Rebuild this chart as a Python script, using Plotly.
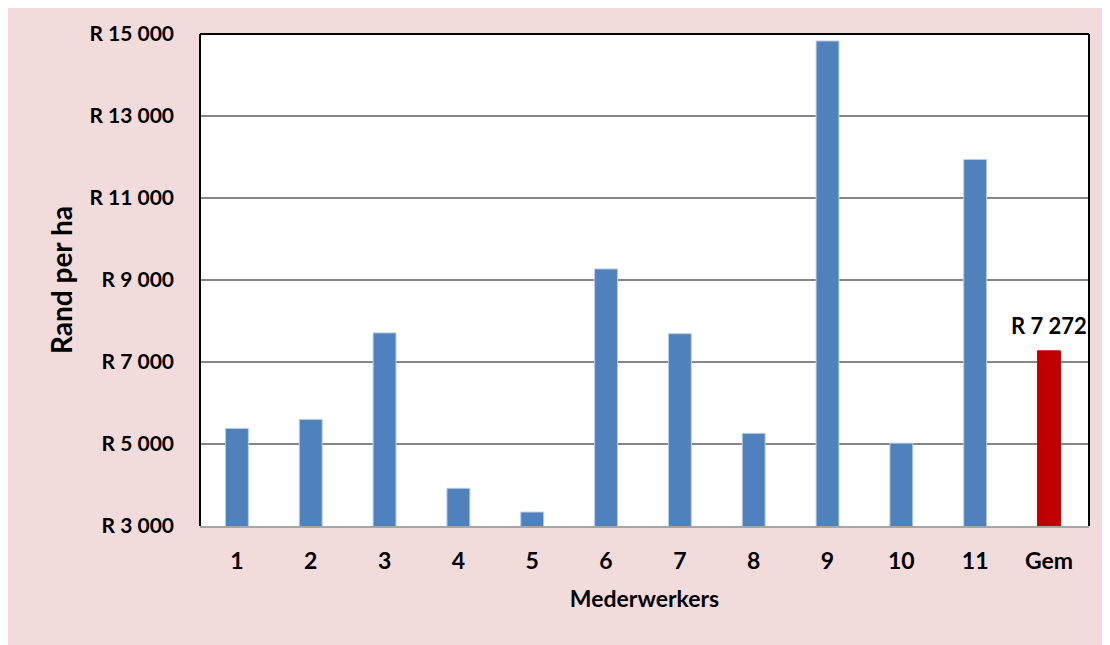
import plotly.graph_objects as go

categories = ["1", "2", "3", "4", "5", "6", "7", "8", "9", "10", "11", "Gem"]
values = [5380, 5600, 7710, 3920, 3340, 9270, 7690, 5260, 14830, 5020, 11940, 7272]
bar_colors = ["#4f81bd"] * 11 + ["#c00000"]
line_colors = ["#b9cde5"] * 11 + ["#c00000"]
y_tickvals = [3000, 5000, 7000, 9000, 11000, 13000, 15000]
y_ticktext = ["R 3 000", "R 5 000", "R 7 000", "R 9 000", "R 11 000", "R 13 000", "R 15 000"]
avg_label = "R 7 272"

# page body has an 8px margin, so the figure is sized to fit the window
W, H = 1102, 637
L, R, T, B = 192, 21, 24, 119

FONT = "Lato, 'Open Sans', 'Liberation Sans', sans-serif"

fig = go.Figure()
fig.add_trace(go.Bar(
    x=categories, y=values,
    marker=dict(color=bar_colors, line=dict(color=line_colors, width=1)),
    width=0.31,
))

fig.add_annotation(
    x="Gem", y=values[-1], text="<b>" + avg_label + "</b>",
    showarrow=False, yanchor="bottom", yshift=10,
    font=dict(family=FONT, size=22, color="black"),
)

shapes = [
    dict(type="line", xref="paper", yref="paper", x0=0, x1=0, y0=0, y1=1,
         line=dict(color="black", width=2)),
    dict(type="line", xref="paper", yref="paper", x0=0, x1=1, y0=1, y1=1,
         line=dict(color="black", width=2)),
    dict(type="line", xref="paper", yref="paper", x0=1, x1=1, y0=0, y1=1,
         line=dict(color="black", width=2)),
]

fig.update_layout(
    width=W, height=H,
    margin=dict(l=L, r=R, t=T, b=B, pad=0),
    paper_bgcolor="#f2dcdb",
    plot_bgcolor="white",
    showlegend=False,
    shapes=shapes,
    font=dict(family=FONT, color="black"),
    xaxis=dict(
        type="category",
        tickfont=dict(family=FONT, size=23, color="black", weight="bold"),
        showline=True, linecolor="#a6a6a6", linewidth=2,
        ticks="", showgrid=False,
        ticklabelstandoff=13,
        title=dict(text="<b>Mederwerkers</b>", font=dict(family=FONT, size=23, color="black"), standoff=18),
    ),
    yaxis=dict(
        range=[3000, 15000],
        tickvals=y_tickvals, ticktext=y_ticktext,
        tickfont=dict(family=FONT, size=21, color="black", weight="bold"),
        showgrid=True, gridcolor="#868686", gridwidth=1.5,
        zeroline=False, showline=False, ticks="",
        ticklabelstandoff=25,
        title=dict(text="<b>Rand per ha</b>", font=dict(family=FONT, size=28, color="black"), standoff=8),
    ),
)

fig.write_html("out.html")
